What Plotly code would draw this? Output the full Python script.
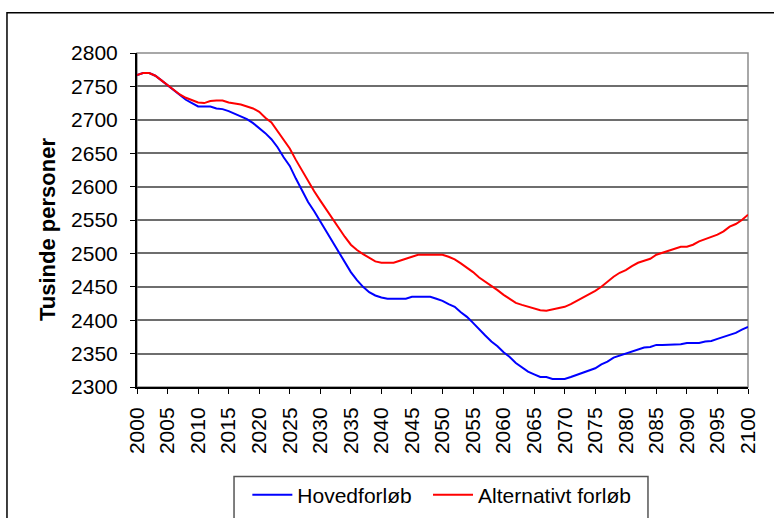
import plotly.graph_objects as go

# Years 2000-2100, population in thousands
years = list(range(2000, 2101))

hovedforloeb = [
    2767, 2770, 2770, 2766, 2759, 2752, 2745, 2737, 2730, 2725,
    2720, 2720, 2720, 2717, 2716, 2713, 2709, 2705, 2701, 2695,
    2688, 2680, 2671, 2659, 2644, 2631, 2612, 2594, 2577, 2563,
    2548, 2532, 2516, 2501, 2487, 2472, 2460, 2450, 2442, 2437,
    2434, 2432, 2432, 2432, 2432, 2435, 2435, 2435, 2435, 2432,
    2429, 2424, 2420, 2412, 2405, 2396, 2386, 2377, 2368, 2361,
    2352, 2345, 2336, 2329, 2323, 2319, 2315, 2315, 2312, 2312,
    2312, 2315, 2318, 2322, 2325, 2328, 2334, 2338, 2344, 2347,
    2350, 2353, 2356, 2359, 2360, 2363, 2363, 2363, 2363, 2364,
    2366, 2366, 2366, 2368, 2369, 2372, 2375, 2378, 2381, 2386,
    2390,
]

alternativt = [
    2767, 2770, 2770, 2766, 2759, 2752, 2745, 2738, 2733, 2729,
    2726, 2725, 2728, 2729, 2729, 2726, 2725, 2723, 2720, 2717,
    2712, 2703, 2696, 2683, 2669, 2657, 2640, 2624, 2608, 2593,
    2579, 2565, 2551, 2538, 2525, 2513, 2505, 2499, 2493, 2488,
    2486, 2486, 2486, 2489, 2492, 2495, 2498, 2498, 2498, 2498,
    2498, 2495, 2491, 2485, 2479, 2472, 2464, 2458, 2452, 2445,
    2438, 2432, 2426, 2423, 2420, 2417, 2415, 2414, 2416, 2417,
    2420, 2424, 2429, 2433, 2439, 2444, 2450, 2458, 2465, 2471,
    2475, 2481, 2486, 2489, 2492, 2498, 2501, 2504, 2507, 2510,
    2510, 2513, 2518, 2521, 2524, 2528, 2533, 2540, 2544, 2550,
    2558,
]

x_ticks = list(range(2000, 2101, 5))
y_ticks = list(range(2300, 2801, 50))

FONT = "Arial, Liberation Sans, sans-serif"

fig = go.Figure()
fig.add_trace(go.Scatter(x=years, y=hovedforloeb, mode="lines",
                         name="Hovedforløb", legend="legend",
                         line=dict(color="#0000FF", width=2)))
fig.add_trace(go.Scatter(x=years, y=alternativt, mode="lines",
                         name="Alternativt forløb", legend="legend2",
                         line=dict(color="#FF0000", width=2)))

# outer chart frame and legend frame (both run past the page edge)
fig.add_shape(type="rect", xref="paper", yref="paper",
              x0=-0.2128, x1=1.12, y0=-0.45, y1=1.1207,
              line=dict(color="black", width=1.5), layer="below")
fig.add_shape(type="rect", xref="paper", yref="paper",
              x0=0.1588, x1=0.8363, y0=-0.46, y1=-0.268,
              line=dict(color="#555555", width=1.5), layer="below")
# plot-area border (top/right)
fig.add_shape(type="rect", xref="paper", yref="paper",
              x0=0, x1=1, y0=0, y1=1,
              line=dict(color="#8c8c8c", width=1.5), layer="below")

# y-axis title
fig.add_annotation(text="<b>Tusinde personer</b>", textangle=-90,
                   xref="paper", yref="paper", x=-0.1473, y=0.473,
                   xanchor="center", yanchor="middle", showarrow=False,
                   font=dict(family=FONT, size=22, color="black"))

legend_common = dict(orientation="h", yanchor="top", y=-0.262,
                     xanchor="left",
                     font=dict(family=FONT, size=21, color="black"),
                     bgcolor="rgba(0,0,0,0)", borderwidth=0, itemwidth=40)

fig.update_layout(
    width=774, height=518,
    margin=dict(l=137, r=26, t=53, b=131, autoexpand=False),
    paper_bgcolor="white", plot_bgcolor="white",
    font=dict(family=FONT, size=21, color="black"),
    showlegend=True,
    legend=dict(x=0.1806, **legend_common),
    legend2=dict(x=0.4763, **legend_common),
    xaxis=dict(range=[2000, 2100], tickmode="array", tickvals=x_ticks,
               ticktext=[str(v) for v in x_ticks], tickangle=-90,
               ticks="outside", ticklen=5, tickcolor="black",
               ticklabelstandoff=5, automargin=False,
               showline=True, linecolor="black", linewidth=2,
               showgrid=False, zeroline=False,
               tickfont=dict(family=FONT, size=21)),
    yaxis=dict(range=[2300, 2800], tickmode="array", tickvals=y_ticks,
               ticktext=[str(v) for v in y_ticks],
               ticks="outside", ticklen=5, tickcolor="black",
               ticklabelstandoff=8, automargin=False,
               showline=True, linecolor="black", linewidth=2,
               showgrid=True, gridcolor="#6e6e6e", gridwidth=1.5,
               zeroline=False,
               tickfont=dict(family=FONT, size=21)),
)

fig.write_html("out.html")
